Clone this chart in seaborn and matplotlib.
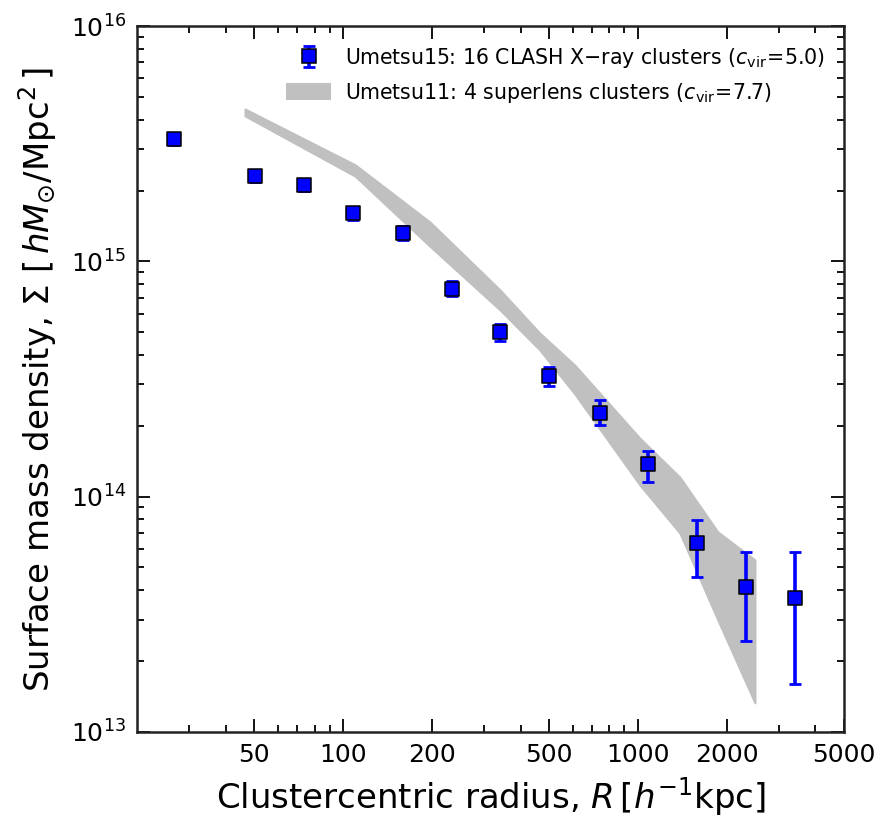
import matplotlib
matplotlib.use("Agg")
import matplotlib.pyplot as plt
import numpy as np
import pandas as pd
import seaborn as sns
from matplotlib.ticker import FixedLocator, NullFormatter, LogLocator
from matplotlib.legend_handler import HandlerTuple
from matplotlib.lines import Line2D

# Umetsu15: 16 CLASH X-ray clusters
radius = [26.7, 50.3, 73.8, 108, 160, 234, 340, 500, 745, 1080, 1585, 2320, 3420]
sigma = [3.31e15, 2.31e15, 2.11e15, 1.60e15, 1.32e15, 7.6e14, 5.0e14, 3.26e14,
         2.27e14, 1.38e14, 6.35e13, 4.13e13, 3.71e13]
sigma_hi = [3.52e15, 2.45e15, 2.22e15, 1.70e15, 1.42e15, 8.25e14, 5.42e14, 3.55e14,
            2.57e14, 1.56e14, 7.96e13, 5.82e13, 5.82e13]
sigma_lo = [3.12e15, 2.18e15, 2.00e15, 1.50e15, 1.23e15, 7.12e14, 4.58e14, 2.95e14,
            2.02e14, 1.15e14, 4.55e13, 2.43e13, 1.60e13]

# Umetsu11: 4 superlens clusters (band edges)
band_r = [46.5, 110, 197, 341, 465, 611, 1016, 1388, 1867, 2494]
band_hi = [4.44e15, 2.57e15, 1.47e15, 7.55e14, 4.95e14, 3.62e14, 1.77e14, 1.21e14, 7.08e13, 5.38e13]
band_lo = [4.15e15, 2.30e15, 1.16e15, 6.21e14, 4.20e14, 2.73e14, 1.12e14, 7.00e13, 2.99e13, 1.33e13]

x_ticks = [50, 100, 200, 500, 1000, 2000, 5000]

sns.set_style("ticks")
plt.rcParams['font.family'] = ['DejaVu Sans']
plt.rcParams['mathtext.fontset'] = 'dejavusans'
plt.rcParams['text.color'] = 'black'
plt.rcParams['axes.labelcolor'] = 'black'

df = pd.DataFrame({'R': radius, 'Sigma': sigma})
yerr = np.array([np.array(sigma) - np.array(sigma_lo), np.array(sigma_hi) - np.array(sigma)])

fig = plt.figure(figsize=(8.81, 8.24), dpi=100)
ax = fig.add_axes([0.1555, 0.1117, 0.8025, 0.8567])

band = ax.fill_between(band_r, band_lo, band_hi, color='silver', edgecolor='silver',
                       linewidth=1.5, joinstyle='round', zorder=1)

eb = ax.errorbar(radius, sigma, yerr=yerr, fmt='none', ecolor='blue', elinewidth=2.6,
                 capsize=4.5, capthick=2, zorder=2)
sns.scatterplot(data=df, x='R', y='Sigma', marker='s', s=95, color='blue',
                edgecolor='black', linewidth=1.1, ax=ax, zorder=3, legend=False)

ax.set_xscale('log')
ax.set_yscale('log')
ax.set_xlim(20, 5000)
ax.set_ylim(1e13, 1e16)

ax.xaxis.set_major_locator(FixedLocator(x_ticks))
ax.set_xticklabels([str(t) for t in x_ticks])
minor = [m * 10 ** e for e in range(1, 4) for m in range(2, 10)]
minor = [v for v in minor if v not in x_ticks and 20 < v < 5000]
ax.xaxis.set_minor_locator(FixedLocator(minor))
ax.xaxis.set_minor_formatter(NullFormatter())
ax.yaxis.set_major_locator(LogLocator(base=10))
ax.yaxis.set_minor_locator(LogLocator(base=10, subs=np.arange(2, 10)))
ax.yaxis.set_minor_formatter(NullFormatter())

ax.tick_params(which='both', direction='in', top=True, right=True, colors='black')
ax.tick_params(which='major', length=9.5, width=1.3, labelsize=18, pad=8)
ax.tick_params(which='minor', length=5.2, width=1.3)
for s in ax.spines.values():
    s.set_linewidth(1.8)
    s.set_color('#222222')

ax.set_xlabel(r'Clustercentric radius, $R\,[h^{-1}\mathrm{kpc}]$', fontsize=24.5, labelpad=6)
ax.set_ylabel(r'Surface mass density, $\Sigma\ [\,hM_{\odot}/\mathrm{Mpc}^2\,]$', fontsize=24.5, labelpad=8)

mk = Line2D([], [], marker='s', color='blue', markeredgecolor='black', markersize=9.5,
            markeredgewidth=1.1, linestyle='none')
ax.legend([(eb, mk), band],
          [r'Umetsu15: 16 CLASH X$-$ray clusters ($c_{\rm vir}\!=\!5.0$)',
           r'Umetsu11: 4 superlens clusters ($c_{\rm vir}\!=\!7.7$)'],
          handler_map={tuple: HandlerTuple(ndivide=1)},
          loc='upper right', frameon=False, fontsize=14.8, handlelength=2.1,
          handletextpad=0.7, labelspacing=0.55, borderaxespad=0.55)

fig.savefig('out.png', dpi=100, facecolor='white')
